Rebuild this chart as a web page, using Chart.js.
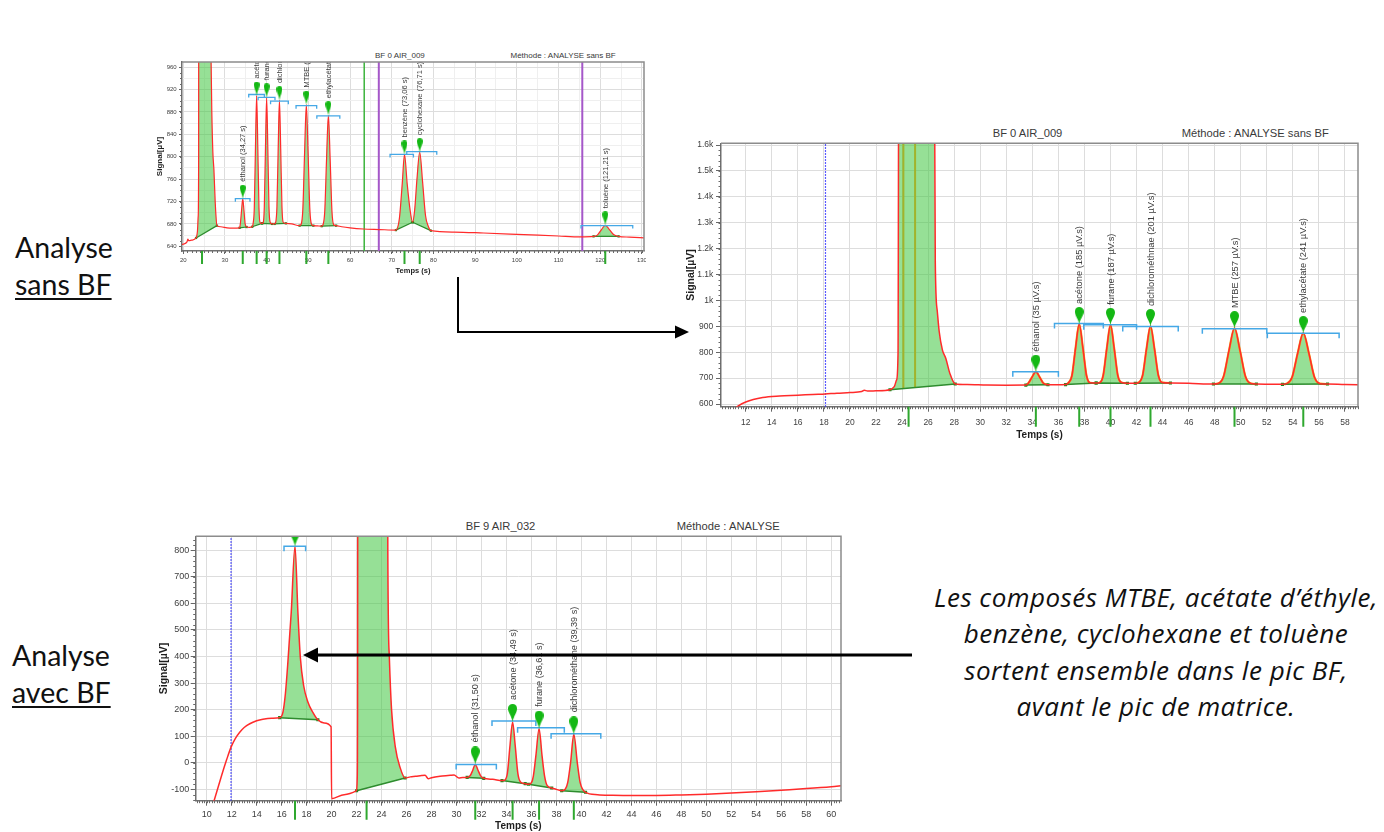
<!DOCTYPE html>
<html lang="fr">
<head>
<meta charset="utf-8">
<title>Analyse sans BF / avec BF</title>
<script src="https://cdn.jsdelivr.net/npm/chart.js@4.4.1/dist/chart.umd.min.js"></script>
<style>
    html, body { margin: 0; padding: 0; background: #fff; }
    body { position: relative; width: 1384px; height: 832px; overflow: hidden; }
    canvas { position: absolute; left: 0; top: 0; }
    .cadre { position: absolute; overflow: hidden; }
    .entete { position: absolute; font-family: "Liberation Sans", Arial, sans-serif; color: #3a3a3a; white-space: nowrap; line-height: 1; transform: translateY(-50%); }
    .cote { position: absolute; font-family: Lato, "Open Sans", sans-serif; font-size: 28.5px; line-height: 37px; color: #111; }
    .cote u { text-decoration-thickness: 1.5px; text-underline-offset: 3px; }
    .note { position: absolute; left: 856px; top: 579px; width: 600px; text-align: center; font-family: "Open Sans", Lato, sans-serif; font-style: italic; font-size: 26px; letter-spacing: 0.5px; line-height: 36.3px; color: #111; white-space: nowrap; }
    svg { position: absolute; left: 0; top: 0; z-index: 5; }
</style>
</head>
<body>

<div class="cote" style="left:15px; top:229px;">Analyse<br><u>sans BF</u></div>
<div class="cote" style="left:12px; top:637px;">Analyse<br><u>avec BF</u></div>

<div class="note">Les composés MTBE, acétate d’éthyle,<br>benzène, cyclohexane et toluène<br>sortent ensemble dans le pic BF,<br>avant le pic de matrice.</div>

<div class="entete" style="left:375px; top:55.5px; font-size:8px;">BF 0 AIR_009</div>
<div class="entete" style="left:510.5px; top:55.5px; font-size:8px;">Méthode : ANALYSE sans BF</div>
<div class="entete" style="left:992.7px; top:133.7px; font-size:11.2px;">BF 0 AIR_009</div>
<div class="entete" style="left:1181.7px; top:133.7px; font-size:11.2px;">Méthode : ANALYSE sans BF</div>
<div class="entete" style="left:465.7px; top:526.7px; font-size:11.2px;">BF 9 AIR_032</div>
<div class="entete" style="left:676.7px; top:526.7px; font-size:11.2px;">Méthode : ANALYSE</div>

<div class="cadre" style="left:150px; top:45px; width:496px; height:235px;"><canvas id="graphe1" width="504" height="235"></canvas></div>
<div class="cadre" style="left:680px; top:125px; width:684px; height:320px;"><canvas id="graphe2" width="684" height="320"></canvas></div>
<div class="cadre" style="left:150px; top:518px; width:697px; height:314px;"><canvas id="graphe3" width="697" height="314"></canvas></div>

<svg width="1384" height="832">
    <polyline points="458,277 458,332 677,332" fill="none" stroke="#000" stroke-width="2"/>
    <polygon points="689,332 675,325.5 675,338.5" fill="#000"/>
    <line x1="912" y1="655" x2="316" y2="655" stroke="#000" stroke-width="3"/>
    <polygon points="303,655 318,647.5 318,662.5" fill="#000"/>
</svg>

<script>
// ---------- Analyse sans BF : injection BF 0 AIR_009 (vue large + zoom) ----------
const tempsA = [
    11.1, 11.4, 12.0, 13.3, 14.6, 16.0, 17.15, 18.1, 19.0, 20.0, 20.9, 21.1, 21.35, 22.0, 23.07,
    23.4, 23.58, 23.69, 23.78, 26.38, 26.55, 26.7, 26.85, 27.1, 27.36, 27.67, 28.08,
    29.0, 30.5, 32.0, 33.5,
    33.69, 33.98, 34.27, 34.56, 34.85, 35.2,
    35.9, 36.55,
    36.76, 37.04, 37.32, 37.6, 37.88, 38.16, 38.44, 38.9,
    39.16, 39.44, 39.72, 40.0, 40.28, 40.56, 40.84, 41.3,
    41.6, 41.9,
    42.17, 42.47, 42.77, 43.07, 43.37, 43.67, 43.97, 44.6,
    46.0, 47.9,
    48.26, 48.68, 49.1, 49.52, 49.94, 50.36, 50.78, 51.2,
    52.2, 53.2,
    53.51, 53.94, 54.37, 54.8, 55.23, 55.66, 56.09, 56.66,
    58.0, 60.0, 63.2, 67.0, 71.0,
    71.84, 72.52, 73.06, 73.7, 74.4, 75.0,
    75.5, 76.05, 76.71, 77.4, 78.1, 78.8, 79.4,
    85.0, 92.0, 100.0, 110.0, 115.2, 118.4,
    119.3, 120.3, 121.21, 122.2, 123.2, 124.4,
    127.0, 130.8
];
const signalA = [
    580, 592, 608, 625, 631, 634, 637, 639, 642, 644, 648, 653, 650, 651, 655,
    667, 693, 796, 3000, 3000, 1150, 960, 880, 808, 776, 718, 677,
    675, 673, 672.5, 673,
    680, 704, 725, 704, 680, 674.5,
    674, 675,
    681, 709, 817, 909, 817, 709, 682, 681,
    682, 710, 816, 906, 816, 710, 683, 680,
    680, 680,
    683, 711, 815, 901, 815, 711, 683, 681,
    680, 677,
    679, 706, 807, 893, 807, 706, 679, 677,
    676.5, 676,
    678.5, 703, 796, 874, 796, 703, 678.5, 677,
    675, 673, 671, 670, 669,
    690, 752, 804, 752, 705, 683,
    705, 760, 808, 755, 695, 675, 668,
    665.5, 663.8, 661.5, 658.5, 657, 657.8,
    660, 670, 677.5, 670, 661, 657.8,
    656.5, 655.2
];

const picsTempsA = [34.27, 37.60, 40.00, 43.07, 49.52, 54.80, 73.06, 76.71, 121.21];
const picsSommetA = [725, 909, 906, 901, 893, 874, 804, 808, 677.5];
const etiquettesA1 = ['éthanol (34,27 s)', 'acétone (37,60 s)', 'furane (40,00 s)', 'dichlorométhane (43,07 s)',
    'MTBE (49,52 s)', 'ethylacétate (54,80 s)', 'benzène (73,06 s)', 'cyclohexane (76,71 s)', 'toluène (121,21 s)'];
const etiquettesA2 = ['éthanol (35 µV.s)', 'acétone (185 µV.s)', 'furane (187 µV.s)', 'dichlorométhnae (201 µV.s)',
    'MTBE (257 µV.s)', 'ethylacétate (241 µV.s)'];

const crochetDebutA = [32.5, 35.7, 37.95, 40.94, 47.05, 52.04, 69.6, 73.6, 115.4];
const crochetFinA = [36.0, 39.45, 42.0, 45.2, 52.0, 57.55, 75.2, 80.8, 127.8];
const crochetNiveauA = [725, 911, 906, 899, 891, 873, 804, 809, 677];

const baseDebutA = [23.07, 33.5, 36.55, 38.9, 41.9, 47.9, 53.2, 71.0, 75.0, 118.4];
const baseFinA = [28.08, 35.2, 38.9, 41.3, 44.6, 51.2, 56.66, 75.0, 79.4, 124.4];

const marquesA = [24.5, 34.27, 37.60, 40.00, 43.07, 49.52, 54.80, 73.06, 76.71, 121.21];
const sousPicsA = [24.1, 25.0];
const repereBleuA = 18.12;
const repereVertA = 63.4;
const fenetresA = [66.9, 115.7];

// ---------- Analyse avec BF : injection BF 9 AIR_032 ----------
const tempsB = [
    10.45, 10.8, 11.2, 11.6, 11.95, 12.3, 12.66, 13.0, 13.45, 14.0, 14.5, 15.2, 15.84,
    16.1, 16.3, 16.5, 16.77, 17.07, 17.3, 17.5, 17.76, 18.1, 18.5, 18.9,
    19.4, 19.96, 20.0, 21.0, 22.0,
    22.05, 22.08, 22.12, 24.42, 24.5, 24.62, 24.8, 25.1, 25.5, 25.88,
    26.3, 26.73, 27.2, 27.48, 27.74, 28.0, 28.86, 29.5, 29.8, 30.19, 30.5, 30.85,
    31.1, 31.3, 31.5, 31.72, 31.92, 32.18,
    32.9, 33.64,
    33.86, 34.07, 34.28, 34.49, 34.7, 34.91, 35.12, 35.5,
    35.76, 36.0, 36.15, 36.35, 36.61, 36.85, 37.05, 37.25, 37.62,
    38.0, 38.42,
    38.7, 38.9, 39.13, 39.39, 39.67, 39.9, 40.1, 40.33,
    41.3, 42.5, 44.0, 46.0, 48.0, 50.0, 52.0, 54.0, 56.0, 58.0, 60.0, 60.9
];
const signalB = [
    -165, -110, -47, 12, 59, 92, 116, 133, 147, 158, 164, 168, 170,
    190, 260, 379, 568, 815, 568, 395, 291, 229, 190, 162,
    150, 135, -135, -120, -105,
    -60, 200, 3000, 3000, 800, 400, 200, 60, -20, -57,
    -53, -51, -48, -47, -60, -56, -50, -47, -46, -57, -55, -55,
    -48, -28, -6, -28, -48, -58.5,
    -62, -67,
    -65, -40, 64, 154, 64, -40, -72, -78.6,
    -81, -75, -50, 25, 128.5, 25, -50, -85, -95,
    -100, -105,
    -100, -75, 0, 107, 0, -75, -100, -111,
    -120, -122, -123, -123, -121, -118, -114, -109, -103, -97, -90, -86
];

const picsTempsB = [17.07, 31.50, 34.49, 36.61, 39.39];
const picsSommetB = [815, -6, 154, 128.5, 107];
const etiquettesB = ['', 'éthanol (31,50 s)', 'acétone (34,49 s)', 'furane (36,61 s)', 'dichlorométhane (39,39 s)'];

const crochetDebutB = [16.19, 29.97, 32.84, 34.89, 37.57];
const crochetFinB = [17.92, 33.19, 36.35, 38.63, 41.55];
const crochetNiveauB = [815, -6, 157, 132, 109.6];

const baseDebutB = [15.84, 22.0, 30.85, 33.64, 35.76, 38.42];
const baseFinB = [18.9, 25.88, 32.18, 35.5, 37.62, 40.33];

const marquesB = [17.07, 22.8, 31.50, 34.49, 36.61, 39.39];
const repereBleuB = 11.95;

// ---------- couleurs ----------
const rouge = '#ff2b2b';
const vertAire = 'rgba(70, 200, 70, 0.57)';
const vertBase = '#2e8c2e';
const bleuCrochet = '#45a8e6';
const police = '"Liberation Sans", Arial, sans-serif';

// goutte verte posée sur le sommet de chaque pic (pointe en bas)
function creerGoutte(largeur, hauteur) {
    const c = document.createElement('canvas');
    c.width = largeur;
    c.height = hauteur * 2;
    const g = c.getContext('2d');
    const r = largeur / 2, cx = largeur / 2;
    g.fillStyle = '#14b814';
    g.beginPath();
    g.moveTo(cx, hauteur);
    g.bezierCurveTo(cx - r * 0.25, hauteur - (hauteur - r) * 0.45, cx - r, r * 1.9, cx - r, r);
    g.arc(cx, r, r, Math.PI, 0);
    g.bezierCurveTo(cx + r, r * 1.9, cx + r * 0.25, hauteur - (hauteur - r) * 0.45, cx, hauteur);
    g.closePath();
    g.fill();
    return c;
}

function pointsDe(temps, signal) {
    return temps.map((t, i) => ({ x: t, y: signal[i] }));
}

// portions du signal comprises entre début et fin d'intégration, séparées par des trous
function segmentsPics(temps, signal, debuts, fins) {
    const pts = [];
    debuts.forEach(function (d, k) {
        temps.forEach(function (t, i) {
            if (t >= d && t <= fins[k]) pts.push({ x: t, y: signal[i] });
        });
        pts.push({ x: fins[k], y: null });
    });
    return pts;
}

function lignesBase(temps, signal, debuts, fins) {
    const pts = [];
    debuts.forEach(function (d, k) {
        pts.push({ x: d, y: signal[temps.indexOf(d)] });
        pts.push({ x: fins[k], y: signal[temps.indexOf(fins[k])] });
        pts.push({ x: fins[k], y: null });
    });
    return pts;
}

function niveauBase(temps, signal, debut, fin, t) {
    const y0 = signal[temps.indexOf(debut)], y1 = signal[temps.indexOf(fin)];
    return y0 + (y1 - y0) * (t - debut) / (fin - debut);
}

// graduations régulières sur des multiples du pas (indépendantes des bornes de l'axe)
function graduations(min, max, pas) {
    const t = [];
    for (let k = Math.ceil(min / pas - 1e-9); k * pas <= max + 1e-9; k++) {
        t.push({ value: Math.round(k * pas * 1000) / 1000 });
    }
    return t;
}

function estMultiple(v, pas) {
    const r = Math.abs(v / pas - Math.round(v / pas));
    return r < 1e-6;
}

// crochets, étiquettes, cadre, petites graduations et repères verts sous l'axe
function habillage(o) {
    return {
        id: 'habillage',
        afterDatasetDraw(chart, args) {
            if (chart.data.datasets[args.index].role !== 'signal') return;
            const { ctx, chartArea: a, scales: { x, y } } = chart;
            ctx.save();
            ctx.beginPath();
            ctx.rect(a.left, a.top, a.right - a.left, a.bottom - a.top);
            ctx.clip();
            ctx.strokeStyle = bleuCrochet;
            ctx.lineWidth = o.epCrochet;
            o.crochetDebut.forEach(function (d, i) {
                const x1 = x.getPixelForValue(d), x2 = x.getPixelForValue(o.crochetFin[i]);
                const py = y.getPixelForValue(o.crochetNiveau[i]);
                ctx.beginPath();
                ctx.moveTo(x1, py + o.hautCrochet);
                ctx.lineTo(x1, py);
                ctx.lineTo(x2, py);
                ctx.lineTo(x2, py + o.hautCrochet);
                ctx.stroke();
            });
            ctx.restore();
        },
        afterDatasetsDraw(chart) {
            const { ctx, chartArea: a, scales: { x, y } } = chart;
            ctx.save();
            ctx.beginPath();
            ctx.rect(a.left, a.top, a.right - a.left, a.bottom - a.top);
            ctx.clip();
            ctx.fillStyle = '#3c3c3c';
            ctx.font = o.policeEtiquette + 'px ' + police;
            ctx.textAlign = 'left';
            ctx.textBaseline = 'middle';
            o.etiquettes.forEach(function (txt, i) {
                if (!txt) return;
                const px = x.getPixelForValue(o.picsTemps[i]);
                const py = y.getPixelForValue(o.picsSommet[i]) - o.goutte[1] - o.ecartEtiquette;
                ctx.save();
                ctx.translate(px + 0.5, py);
                ctx.rotate(-Math.PI / 2);
                ctx.fillText(txt, 0, 0);
                ctx.restore();
            });
            ctx.restore();
        },
        afterDraw(chart) {
            const { ctx, chartArea: a, scales: { x, y } } = chart;
            ctx.save();
            // bord haut et droit du tracé
            ctx.strokeStyle = '#8c8c8c';
            ctx.lineWidth = 1.5;
            ctx.beginPath();
            ctx.moveTo(a.left, a.top);
            ctx.lineTo(a.right, a.top);
            ctx.lineTo(a.right, a.bottom);
            ctx.stroke();
            // petites graduations
            ctx.strokeStyle = '#6a6a6a';
            ctx.lineWidth = 1;
            ctx.beginPath();
            graduations(x.min, x.max, o.xMineur).forEach(function (g) {
                const px = Math.round(x.getPixelForValue(g.value)) + 0.5;
                ctx.moveTo(px, a.bottom);
                ctx.lineTo(px, a.bottom + o.longMineur);
            });
            graduations(y.min, y.max, o.yMineur).forEach(function (g) {
                const py = Math.round(y.getPixelForValue(g.value)) + 0.5;
                ctx.moveTo(a.left, py);
                ctx.lineTo(a.left - o.longMineur, py);
            });
            ctx.stroke();
            // repères verts des pics sous l'axe des temps
            ctx.strokeStyle = '#2fa82f';
            ctx.lineWidth = 2;
            ctx.beginPath();
            o.marques.forEach(function (t) {
                if (t < x.min || t > x.max) return;
                const px = x.getPixelForValue(t);
                ctx.moveTo(px, a.bottom);
                ctx.lineTo(px, a.bottom + o.longMarque);
            });
            ctx.stroke();
            ctx.restore();
        }
    };
}

function creerGraphique(o) {
    const goutte = creerGoutte(o.goutte[0], o.goutte[1]);
    const finGrandPic = o.baseFin[0];
    const datasets = [
        {
            role: 'aires',
            data: segmentsPics(o.temps, o.signal, o.baseDebut, o.baseFin),
            fill: { target: 1, above: vertAire, below: vertAire },
            borderColor: o.contourPic,
            borderWidth: o.epContour,
            // pas de liseré orange sur le grand pic de matrice
            segment: { borderColor: (c) => (c.p1.parsed.x <= finGrandPic ? 'rgba(0,0,0,0)' : undefined) },
            pointRadius: 0,
            cubicInterpolationMode: 'monotone',
            order: 6
        },
        {
            role: 'base',
            data: lignesBase(o.temps, o.signal, o.baseDebut, o.baseFin),
            fill: false,
            borderColor: vertBase,
            borderWidth: o.epBase,
            pointStyle: 'rect',
            pointRadius: o.rayonBase,
            pointBackgroundColor: '#1d8a1d',
            pointBorderWidth: 0,
            order: 4
        },
        {
            role: 'signal',
            data: pointsDe(o.temps, o.signal),
            fill: false,
            borderColor: rouge,
            borderWidth: o.epSignal,
            pointRadius: 0,
            cubicInterpolationMode: 'monotone',
            order: 3
        },
        {
            role: 'gouttes',
            data: o.picsTemps.map((t, i) => ({ x: t, y: o.picsSommet[i] })),
            showLine: false,
            pointStyle: goutte,
            pointRadius: 5,
            order: 1
        }
    ];
    o.reperes.forEach(function (r) {
        datasets.push({
            data: [{ x: r.t, y: o.yMin }, { x: r.t, y: o.yMax }],
            borderColor: r.couleur,
            borderWidth: r.ep,
            borderDash: r.tirets || [],
            pointRadius: 0,
            fill: false,
            order: 5
        });
    });
    o.sousPics.forEach(function (t) {
        datasets.push({
            data: [{ x: t, y: niveauBase(o.temps, o.signal, o.baseDebut[0], o.baseFin[0], t) }, { x: t, y: o.yMax }],
            borderColor: '#a2b32c',
            borderWidth: 2,
            pointRadius: 0,
            fill: false,
            order: 5
        });
    });

    return new Chart(document.getElementById(o.id), {
        type: 'line',
        data: { datasets: datasets },
        options: {
            responsive: false,
            animation: false,
            events: [],
            layout: { padding: { left: 0, top: o.padHaut, right: o.padDroite, bottom: 0 } },
            plugins: { legend: { display: false }, tooltip: { enabled: false } },
            scales: {
                x: {
                    type: 'linear',
                    min: o.xMin,
                    max: o.xMax,
                    afterBuildTicks: (s) => { s.ticks = graduations(s.min, s.max, o.xPas); },
                    ticks: {
                        autoSkip: false,
                        maxRotation: 0,
                        padding: o.xPadTick,
                        color: '#404040',
                        font: { family: police, size: o.policeTick },
                        callback: (v) => (estMultiple(v, o.xEtiq) ? v : '')
                    },
                    grid: {
                        color: (c) => (c.tick && !estMultiple(c.tick.value, o.xEtiq) ? '#efefef' : '#dddddd'),
                        tickLength: o.longTick,
                        tickColor: (c) => (c.tick && !estMultiple(c.tick.value, o.xEtiq) ? 'rgba(0,0,0,0)' : '#666')
                    },
                    border: { color: '#6f6f6f', width: 1.5 },
                    title: {
                        display: true,
                        text: 'Temps (s)',
                        color: '#1e1e1e',
                        font: { family: police, size: o.policeTitre, weight: 'bold' },
                        padding: { top: 0, bottom: o.xPadTitre }
                    },
                    afterFit: (s) => { s.height = o.hauteurX; }
                },
                y: {
                    min: o.yMin,
                    max: o.yMax,
                    afterBuildTicks: (s) => { s.ticks = graduations(s.min, s.max, o.yPas); },
                    ticks: {
                        autoSkip: false,
                        padding: o.yPadTick,
                        color: '#404040',
                        font: { family: police, size: o.policeTick },
                        callback: function (v) {
                            if (!estMultiple(v, o.yEtiq)) return '';
                            return v >= 1000 ? (Math.round(v / 100) / 10) + 'k' : v;
                        }
                    },
                    grid: {
                        color: (c) => (c.tick && !estMultiple(c.tick.value, o.yEtiq) ? '#efefef' : '#dddddd'),
                        tickLength: o.longTick,
                        tickColor: (c) => (c.tick && !estMultiple(c.tick.value, o.yEtiq) ? 'rgba(0,0,0,0)' : '#666')
                    },
                    border: { color: '#6f6f6f', width: 1.5 },
                    title: {
                        display: true,
                        text: 'Signal[µV]',
                        color: '#1e1e1e',
                        font: { family: police, size: o.policeTitreY, weight: 'bold' },
                        padding: { top: o.yPadTitre, bottom: 0 }
                    },
                    afterFit: (s) => { s.width = o.largeurY; }
                }
            }
        },
        plugins: [habillage(o)]
    });
}

document.addEventListener('DOMContentLoaded', function () {
    // vue large, analyse sans BF
    creerGraphique({
        id: 'graphe1',
        temps: tempsA, signal: signalA, baseDebut: baseDebutA, baseFin: baseFinA,
        picsTemps: picsTempsA, picsSommet: picsSommetA, etiquettes: etiquettesA1,
        crochetDebut: crochetDebutA, crochetFin: crochetFinA, crochetNiveau: crochetNiveauA,
        marques: marquesA, sousPics: [],
        reperes: [
            { t: repereVertA, couleur: '#3cb43c', ep: 1.5 },
            { t: fenetresA[0], couleur: '#a557c9', ep: 2 },
            { t: fenetresA[1], couleur: '#a557c9', ep: 2 }
        ],
        xMin: 19.7, xMax: 130.5, xPas: 5, xEtiq: 10, xMineur: 1,
        yMin: 631.7, yMax: 969, yPas: 20, yEtiq: 40, yMineur: 10,
        padHaut: 17, padDroite: 10, largeurY: 32, hauteurX: 29,
        policeTick: 6, policeTitre: 7.5, policeTitreY: 8, policeEtiquette: 7.5,
        xPadTick: 2.4, yPadTick: 2.3, longTick: 3, longMineur: 2,
        xPadTitre: 4.5, yPadTitre: 5.2,
        epSignal: 1.2, epBase: 1.2, rayonBase: 1.6, contourPic: 'rgba(0,0,0,0)', epContour: 0,
        goutte: [6, 14], ecartEtiquette: 3, hautCrochet: 3, epCrochet: 1.3,
        longMarque: 13
    });

    // zoom 10-59 s, analyse sans BF
    creerGraphique({
        id: 'graphe2',
        temps: tempsA, signal: signalA, baseDebut: baseDebutA, baseFin: baseFinA,
        picsTemps: picsTempsA, picsSommet: picsSommetA, etiquettes: etiquettesA2,
        crochetDebut: crochetDebutA, crochetFin: crochetFinA, crochetNiveau: crochetNiveauA,
        marques: marquesA, sousPics: sousPicsA,
        reperes: [{ t: repereBleuA, couleur: '#2424ff', ep: 1.2, tirets: [1.5, 1.5] }],
        xMin: 10.1, xMax: 59.0, xPas: 2, xEtiq: 2, xMineur: 0.2,
        yMin: 589.6, yMax: 1606.6, yPas: 100, yEtiq: 100, yMineur: 20,
        padHaut: 18.3, padDroite: 4, largeurY: 41, hauteurX: 38.3,
        policeTick: 8.5, policeTitre: 10, policeTitreY: 10.5, policeEtiquette: 9.3,
        xPadTick: 5.5, yPadTick: 2.7, longTick: 5, longMineur: 2.5,
        xPadTitre: 4, yPadTitre: 4.4,
        epSignal: 1.5, epBase: 1.5, rayonBase: 2.2, contourPic: '#f2a81c', epContour: 2.2,
        goutte: [9, 17], ecartEtiquette: 3, hautCrochet: 5, epCrochet: 1.5,
        longMarque: 20
    });

    // analyse avec BF
    creerGraphique({
        id: 'graphe3',
        temps: tempsB, signal: signalB, baseDebut: baseDebutB, baseFin: baseFinB,
        picsTemps: picsTempsB, picsSommet: picsSommetB, etiquettes: etiquettesB,
        crochetDebut: crochetDebutB, crochetFin: crochetFinB, crochetNiveau: crochetNiveauB,
        marques: marquesB, sousPics: [],
        reperes: [{ t: repereBleuB, couleur: '#2424ff', ep: 1.2, tirets: [1.5, 1.5] }],
        xMin: 9.12, xMax: 60.78, xPas: 2, xEtiq: 2, xMineur: 0.2,
        yMin: -142.7, yMax: 852.7, yPas: 100, yEtiq: 100, yMineur: 20,
        padHaut: 18.3, padDroite: 4, largeurY: 45.7, hauteurX: 31.3,
        policeTick: 9, policeTitre: 10, policeTitreY: 10.5, policeEtiquette: 9.1,
        xPadTick: 3.6, yPadTick: 1.4, longTick: 5, longMineur: 2.5,
        xPadTitre: 0, yPadTitre: 7.7,
        epSignal: 1.5, epBase: 1.5, rayonBase: 2.2, contourPic: 'rgba(0,0,0,0)', epContour: 0,
        goutte: [9, 18], ecartEtiquette: 4, hautCrochet: 5, epCrochet: 1.5,
        longMarque: 19
    });
});
</script>
</body>
</html>
